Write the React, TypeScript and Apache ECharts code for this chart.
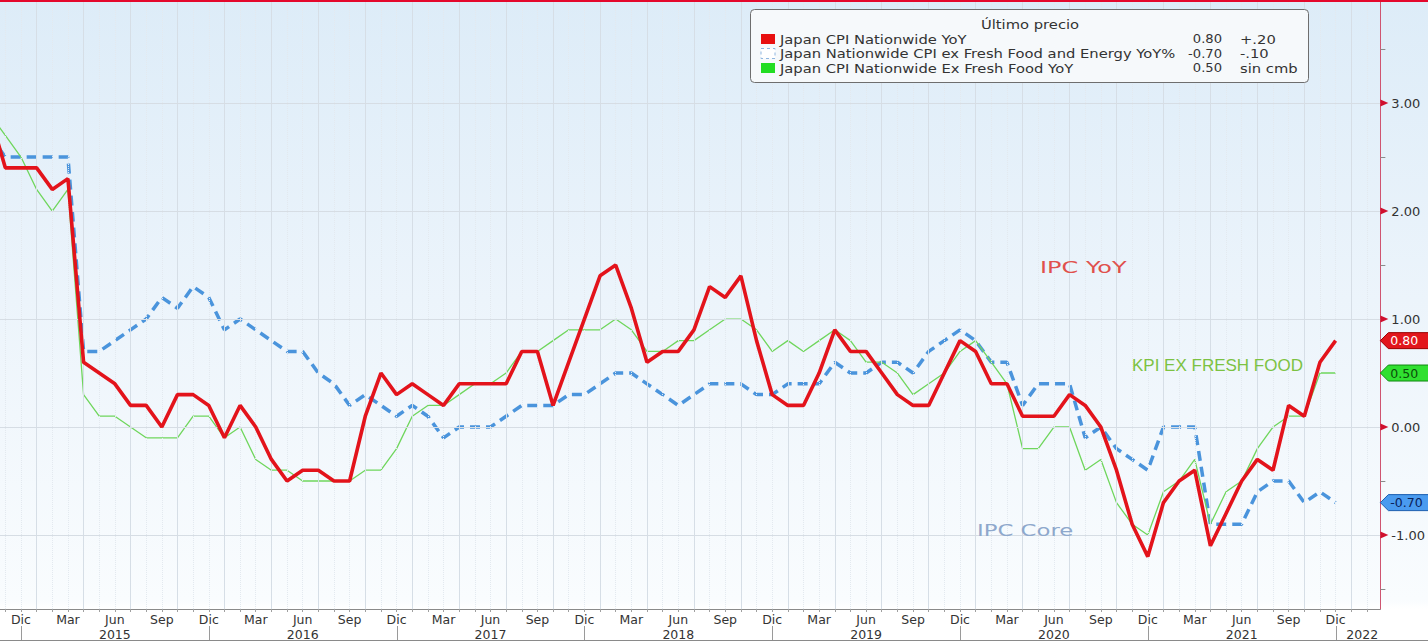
import React, { useEffect, useRef } from "react";
import * as echarts from "echarts";

// Month index 0 = Oct 2014 ... 86 = Dec 2021
const monthAbbr = ["Oct", "Nov", "Dic", "Ene", "Feb", "Mar", "Abr", "May", "Jun", "Jul", "Ago", "Sep"];

// Japan CPI Nationwide YoY (red)
const cpiYoY = [
  2.9, 2.4, 2.4,
  2.4, 2.2, 2.3, 0.6, 0.5, 0.4, 0.2, 0.2, 0.0, 0.3, 0.3, 0.2,
  -0.1, 0.2, 0.0, -0.3, -0.5, -0.4, -0.4, -0.5, -0.5, 0.1, 0.5, 0.3,
  0.4, 0.3, 0.2, 0.4, 0.4, 0.4, 0.4, 0.7, 0.7, 0.2, 0.6, 1.0,
  1.4, 1.5, 1.1, 0.6, 0.7, 0.7, 0.9, 1.3, 1.2, 1.4, 0.8, 0.3,
  0.2, 0.2, 0.5, 0.9, 0.7, 0.7, 0.5, 0.3, 0.2, 0.2, 0.5, 0.8,
  0.7, 0.4, 0.4, 0.1, 0.1, 0.1, 0.3, 0.2, 0.0, -0.4, -0.9, -1.2,
  -0.7, -0.5, -0.4, -1.1, -0.8, -0.5, -0.3, -0.4, 0.2, 0.1, 0.6, 0.8,
];

// Japan Nationwide CPI ex Fresh Food and Energy YoY% (blue dashed)
const coreCore = [
  2.7, 2.5, 2.5,
  2.5, 2.5, 2.5, 0.7, 0.7, 0.8, 0.9, 1.0, 1.2, 1.1, 1.3, 1.2,
  0.9, 1.0, 0.9, 0.8, 0.7, 0.7, 0.5, 0.4, 0.2, 0.3, 0.2, 0.1,
  0.2, 0.1, -0.1, 0.0, 0.0, 0.0, 0.1, 0.2, 0.2, 0.2, 0.3, 0.3,
  0.4, 0.5, 0.5, 0.4, 0.3, 0.2, 0.3, 0.4, 0.4, 0.4, 0.3, 0.3,
  0.4, 0.4, 0.4, 0.6, 0.5, 0.5, 0.6, 0.6, 0.5, 0.7, 0.8, 0.9,
  0.8, 0.6, 0.6, 0.2, 0.4, 0.4, 0.4, -0.1, 0.0, -0.2, -0.3, -0.4,
  0.0, 0.0, 0.0, -0.9, -0.9, -0.9, -0.6, -0.5, -0.5, -0.7, -0.6, -0.7,
];

// Japan CPI Nationwide Ex Fresh Food YoY (green)
const exFresh = [
  2.9, 2.7, 2.5,
  2.2, 2.0, 2.2, 0.3, 0.1, 0.1, 0.0, -0.1, -0.1, -0.1, 0.1, 0.1,
  -0.1, 0.0, -0.3, -0.4, -0.4, -0.5, -0.5, -0.5, -0.5, -0.4, -0.4, -0.2,
  0.1, 0.2, 0.2, 0.3, 0.4, 0.4, 0.5, 0.7, 0.7, 0.8, 0.9, 0.9,
  0.9, 1.0, 0.9, 0.7, 0.7, 0.8, 0.8, 0.9, 1.0, 1.0, 0.9, 0.7,
  0.8, 0.7, 0.8, 0.9, 0.8, 0.6, 0.6, 0.5, 0.3, 0.4, 0.5, 0.7,
  0.8, 0.6, 0.4, -0.2, -0.2, 0.0, 0.0, -0.4, -0.3, -0.7, -0.9, -1.0,
  -0.6, -0.5, -0.3, -0.9, -0.6, -0.5, -0.2, 0.0, 0.1, 0.1, 0.5, 0.5,
];

const seriesNames = [
  "Japan CPI Nationwide YoY",
  "Japan Nationwide CPI ex Fresh Food and Energy YoY%",
  "Japan CPI Nationwide Ex Fresh Food YoY",
];

const monthLabelTicks = [2, 5, 8, 11, 14, 17, 20, 23, 26, 29, 32, 35, 38, 41, 44, 47, 50, 53, 56, 59, 62, 65, 68, 71, 74, 77, 80, 83, 86];
const yearLabelPos = [8, 20, 32, 44, 56, 68, 80, 87.7];
const yearLabels = ["2015", "2016", "2017", "2018", "2019", "2020", "2021", "2022"];
const yearSepPos = [2, 14, 26, 38, 50, 62, 74, 86];
const yMajorTicks = [-1, 0, 1, 2, 3];
const yMinorTicks = [-1.5, -0.5, 0.5, 1.5, 2.5, 3.5];

const X_MIN = 0.66;
const X_MAX = 88.86;
const Y_MIN = -1.685;
const Y_MAX = 3.954;

const W = 1428;
const H = 642;

const pairs = (arr: number[]) => arr.map((v, i) => [i, v]);
const fmtChange = (d: number) => {
  if (Math.abs(d) < 1e-9) return "sin cmb";
  const s = Math.abs(d).toFixed(2).replace(/^0/, "");
  return (d > 0 ? "+" : "-") + s;
};

export default function App() {
  const ref = useRef<HTMLDivElement>(null);

  useEffect(() => {
    document.body.style.margin = "0";
    const chart = echarts.init(ref.current!, null, { renderer: "svg" });

    const allMonths: number[] = [];
    for (let i = 1; i <= 88; i++) allMonths.push(i);

    const vGrid = allMonths.map((i) => ({
      xAxis: i,
      lineStyle: {
        color: i % 3 === 0 ? "#d6dee6" : "#e3e9ef",
        type: i % 3 === 0 ? "solid" : "dotted",
        width: 1,
      },
    }));
    const hGrid = yMajorTicks.map((v) => ({
      yAxis: v,
      lineStyle: { color: "#d6dde4", type: "solid", width: 1 },
    }));

    const option: any = {
      animation: false,
      backgroundColor: "transparent",
      grid: { left: 0, right: W - 1383, top: 0, bottom: H - 609, containLabel: false },
      xAxis: [
        {
          type: "value",
          min: X_MIN,
          max: X_MAX,
          position: "bottom",
          axisLine: { show: true, onZero: false, lineStyle: { color: "#8a8a8a", width: 1 } },
          axisTick: { show: true, customValues: allMonths, length: 3, lineStyle: { color: "#a0a0a0" } },
          axisLabel: {
            show: true,
            customValues: monthLabelTicks,
            formatter: (v: number) => monthAbbr[Math.round(v) % 12],
            color: "#333",
            fontSize: 12.5,
            fontFamily: "DejaVu Sans",
            margin: 4,
          },
          splitLine: { show: false },
        },
        {
          type: "value",
          min: X_MIN,
          max: X_MAX,
          position: "bottom",
          offset: 15,
          axisLine: { show: false },
          axisTick: { show: false },
          axisLabel: {
            show: true,
            customValues: yearLabelPos,
            formatter: (v: number) => {
              const k = yearLabelPos.findIndex((p) => Math.abs(p - v) < 1e-6);
              return k >= 0 ? yearLabels[k] : "";
            },
            color: "#333",
            fontSize: 12.5,
            fontFamily: "DejaVu Sans",
            margin: 4,
          },
          splitLine: { show: false },
        },
      ],
      yAxis: [
        {
          type: "value",
          min: Y_MIN,
          max: Y_MAX,
          position: "right",
          axisLine: { show: true, onZero: false, lineStyle: { color: "#cf5470", width: 1 } },
          axisTick: { show: true, customValues: yMinorTicks, length: 5, lineStyle: { color: "#8a8a8a" } },
          axisLabel: {
            show: true,
            customValues: yMajorTicks,
            formatter: (v: number) => v.toFixed(2),
            color: "#333",
            fontSize: 13,
            fontFamily: "DejaVu Sans",
            margin: 11,
          },
          splitLine: { show: false },
        },
      ],
      series: [
        {
          type: "line",
          name: "grid",
          data: pairs(cpiYoY),
          symbol: "none",
          silent: true,
          lineStyle: { opacity: 0 },
          z: 1,
          markLine: {
            silent: true,
            symbol: ["none", "none"],
            label: { show: false },
            data: [...vGrid, ...hGrid],
          },
        },
        {
          type: "line",
          name: seriesNames[1],
          data: pairs(coreCore),
          symbol: "none",
          lineStyle: { color: "#4a94dc", width: 3.5, type: [10, 6] },
          itemStyle: { color: "#4a94dc" },
          z: 3,
        },
        {
          type: "line",
          name: seriesNames[2],
          data: pairs(exFresh),
          symbol: "none",
          lineStyle: { color: "#6fd65c", width: 1.3 },
          itemStyle: { color: "#6fd65c" },
          z: 4,
        },
        {
          type: "line",
          name: seriesNames[0],
          data: pairs(cpiYoY),
          symbol: "none",
          lineStyle: { color: "#e3131b", width: 3.6 },
          itemStyle: { color: "#e3131b" },
          z: 5,
        },
      ],
    };

    chart.setOption(option);

    const px = (i: number) => chart.convertToPixel({ xAxisIndex: 0 }, i) as number;
    const py = (v: number) => chart.convertToPixel({ yAxisIndex: 0 }, v) as number;
    const ax = px(X_MAX);
    const bottomY = py(Y_MIN);

    const elements: any[] = [];

    // top red border
    elements.push({ type: "rect", shape: { x: 0, y: 0, width: W, height: 2 }, style: { fill: "#e4082c" }, z: 100 });

    // major tick triangles
    yMajorTicks.forEach((v) => {
      const y = py(v);
      elements.push({
        type: "polygon",
        shape: { points: [[ax, y - 3.5], [ax + 8, y], [ax, y + 3.5]] },
        style: { fill: "#d0102e" },
        z: 100,
      });
    });

    // value tags on the axis
    const tags = [
      { v: cpiYoY[cpiYoY.length - 1], fill: "#e2161c", stroke: "#9a0000", text: "#ffffff" },
      { v: exFresh[exFresh.length - 1], fill: "#30e030", stroke: "#118811", text: "#0b4d0b" },
      { v: coreCore[coreCore.length - 1], fill: "#4a9bef", stroke: "#1c5fb0", text: "#0b2259" },
    ];
    tags.forEach((t) => {
      const y = py(t.v);
      elements.push({
        type: "polygon",
        shape: { points: [[ax, y], [ax + 8, y - 8], [W + 5, y - 8], [W + 5, y + 8], [ax + 8, y + 8]] },
        style: { fill: t.fill, stroke: t.stroke, lineWidth: 1 },
        z: 101,
      });
      elements.push({
        type: "text",
        x: ax + 10,
        y: y,
        style: {
          text: t.v.toFixed(2),
          fill: t.text,
          fontSize: 12.5,
          fontFamily: "DejaVu Sans",
          align: "left",
          verticalAlign: "middle",
        },
        z: 102,
      });
    });

    // year separators in axis band
    yearSepPos.forEach((i) => {
      const x = Math.round(px(i)) + 0.5;
      elements.push({
        type: "line",
        shape: { x1: x, y1: bottomY + 17, x2: x, y2: H - 1 },
        style: { stroke: "#9a9a9a", lineWidth: 1 },
        z: 100,
      });
    });
    // bottom border
    elements.push({ type: "line", shape: { x1: 0, y1: H - 1.5, x2: W, y2: H - 1.5 }, style: { stroke: "#8a8a8a", lineWidth: 1 }, z: 100 });

    // legend box
    const lx = 750, ly = 9, lw = 558, lh = 73;
    const legendFont = { fontSize: 12.5, fontFamily: "DejaVu Sans", fill: "#333" };
    const sx = 1.18;
    const sv = 1.05;
    elements.push({
      type: "rect",
      shape: { x: lx + 0.5, y: ly + 0.5, width: lw, height: lh, r: 4 },
      style: { fill: "#f6f9fb", stroke: "#6e6e6e", lineWidth: 1 },
      z: 110,
    });
    elements.push({
      type: "text",
      x: 1030,
      y: 24,
      scaleX: sx,
      style: { text: "Último precio", ...legendFont, align: "center", verticalAlign: "middle" },
      z: 111,
    });
    const rowsY = [39, 53.5, 68];
    const rowVals = [cpiYoY, coreCore, exFresh];
    const rowColors = ["#e81010", "#ffffff", "#22dd22"];
    rowsY.forEach((y, k) => {
      const arr = rowVals[k];
      const last = arr[arr.length - 1];
      const prev = arr[arr.length - 2];
      elements.push({
        type: "rect",
        shape: { x: 761, y: y - 5, width: 14, height: 10 },
        style: k === 1
          ? { fill: "#ffffff", stroke: "#8fb6e0", lineWidth: 1, lineDash: [3, 3] }
          : { fill: rowColors[k] },
        z: 111,
      });
      elements.push({
        type: "text",
        x: 780,
        y,
        scaleX: sx,
        style: { text: seriesNames[k], ...legendFont, align: "left", verticalAlign: "middle" },
        z: 111,
      });
      elements.push({
        type: "text",
        x: 1222,
        y,
        scaleX: sv,
        style: { text: last.toFixed(2), ...legendFont, align: "right", verticalAlign: "middle" },
        z: 111,
      });
      elements.push({
        type: "text",
        x: 1240,
        y,
        scaleX: sx,
        style: { text: fmtChange(last - prev), ...legendFont, align: "left", verticalAlign: "middle" },
        z: 111,
      });
    });

    // annotations
    elements.push({
      type: "text",
      x: 1040,
      y: 268,
      scaleX: 1.6,
      style: { text: "IPC YoY", fontSize: 15, fontFamily: "DejaVu Sans", fill: "#e0504c", align: "left", verticalAlign: "middle" },
      z: 90,
    });
    elements.push({
      type: "text",
      x: 977,
      y: 531,
      scaleX: 1.52,
      style: { text: "IPC Core", fontSize: 15, fontFamily: "DejaVu Sans", fill: "#8ea8cc", align: "left", verticalAlign: "middle" },
      z: 90,
    });
    elements.push({
      type: "text",
      x: 1132,
      y: 365,
      style: { text: "KPI EX FRESH FOOD", fontSize: 17, fontFamily: "Liberation Sans", fill: "#7cc242", align: "left", verticalAlign: "middle" },
      z: 90,
    });

    chart.setOption({ graphic: { elements } });

    return () => {
      chart.dispose();
    };
  }, []);

  return (
    <div
      ref={ref}
      style={{
        position: "absolute",
        left: 0,
        top: 0,
        width: W,
        height: H,
        background:
          "linear-gradient(to bottom, #ddecf8 0px, #ecf4fb 300px, #f9fcfe 600px, #ffffff 609px)",
      }}
    />
  );
}
